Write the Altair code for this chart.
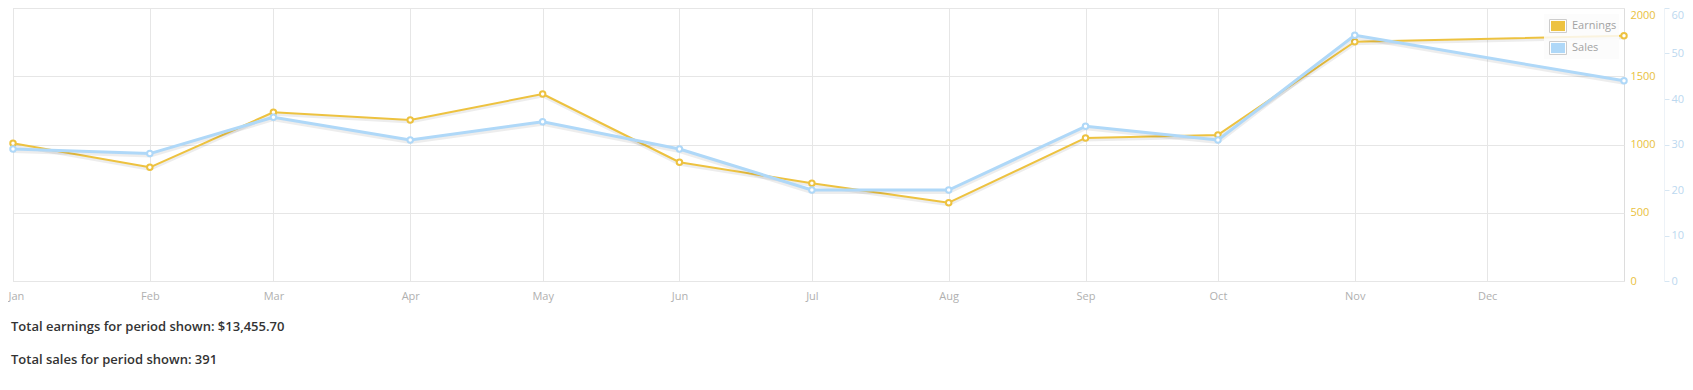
import altair as alt
import pandas as pd

# ---- data ----
dates = ["2013-01-01", "2013-02-01", "2013-03-01", "2013-04-01", "2013-05-01", "2013-06-01",
         "2013-07-01", "2013-08-01", "2013-09-01", "2013-10-01", "2013-11-01", "2014-01-01"]
earnings = [1009, 833, 1236, 1179, 1370, 870, 716, 574, 1048, 1070, 1753, 1797]
sales = [29, 28, 36, 31, 35, 29, 20, 20, 34, 31, 54, 44]

month_ticks = [1, 2, 3, 4, 5, 6, 7, 8, 9, 10, 11, 12]
earn_ticks = [0, 500, 1000, 1500, 2000]
sales_ticks = [0, 10, 20, 30, 40, 50, 60]

series_names = ["Earnings", "Sales"]
series_colors = ["#edc240", "#afd8f8"]

totals = ["Total earnings for period shown: $13,455.70", "Total sales for period shown: 391"]

df = pd.DataFrame({"date": dates, "earnings": earnings, "sales": sales})
leg_df = pd.DataFrame({"name": series_names})

W, H = 1611, 273
FONT = "Open Sans"

x_enc = alt.X(
    "date:T",
    scale=alt.Scale(type="utc", domain=[alt.DateTime(year=2013, month=1, date=1, utc=True),
                                        alt.DateTime(year=2014, month=1, date=1, utc=True)]),
    axis=alt.Axis(values=[alt.DateTime(year=2013, month=m, date=1, utc=True) for m in month_ticks],
                  labelExpr="utcFormat(datum.value, '%b')", title=None, domain=False,
                  ticks=False, tickSize=0, labelPadding=9, grid=True, gridColor="#e6e6e6",
                  labelColor="#b0b0b0", labelFont=FONT, labelFontSize=11,
                  labelFlush=True, labelFlushOffset=5),
)

y_earn = alt.Y(
    "earnings:Q",
    scale=alt.Scale(domain=[0, 2000], nice=False),
    axis=alt.Axis(orient="right", values=earn_ticks, format="d", title=None, domain=False,
                  ticks=False, tickSize=0, labelPadding=6, labelColor="#e9c13d", labelFont=FONT,
                  labelFontSize=11, grid=True, gridColor="#e6e6e6",
                  labelBaseline={"condition": {"test": "datum.value >= 2000", "value": "top"},
                                 "value": "middle"},
                  labelOffset={"condition": {"test": "datum.value >= 2000", "value": 1},
                               "value": 0}),
)

y_sales = alt.Y(
    "sales:Q",
    scale=alt.Scale(domain=[0, 60], nice=False),
    axis=alt.Axis(orient="right", offset=40, values=sales_ticks, format="d", title=None,
                  domain=True, domainColor="#edf2f7", ticks=True, tickSize=5,
                  tickColor="#d6e6f3", labelPadding=2, labelColor="#bcd8ef", labelFont=FONT,
                  labelFontSize=11, grid=False,
                  labelBaseline={"condition": {"test": "datum.value >= 60", "value": "top"},
                                 "value": "middle"},
                  labelOffset={"condition": {"test": "datum.value >= 60", "value": 1},
                               "value": 0}),
)

base = alt.Chart(df)

def series_layer(y_enc, color, width):
    shadow = base.mark_line(color="black", opacity=0.07, strokeWidth=width + 1, yOffset=2,
                            strokeJoin="round").encode(x=x_enc, y=y_enc)
    line = base.mark_line(color=color, strokeWidth=width, strokeJoin="round").encode(x=x_enc, y=y_enc)
    pts = base.mark_point(shape="circle", size=30, filled=False, fill="white", fillOpacity=1,
                          stroke=color, strokeWidth=2, opacity=1).encode(x=x_enc, y=y_enc)
    return alt.layer(shadow, line, pts)

earn_layer = series_layer(y_earn, series_colors[0], 2)
sales_layer = series_layer(y_sales, series_colors[1], 3)

# ---- legend (flot style) ----
y_leg = alt.Y("name:N", scale=alt.Scale(type="point", domain=series_names, range=[18, 40], padding=0),
              axis=None)
leg_bg = alt.Chart(alt.Data(values=[{"a": 1}])).mark_rect(fill="#fbfbfb", opacity=0.85).encode(
    x=alt.value(1531), x2=alt.value(1606), y=alt.value(6), y2=alt.value(51))
outer_path = "M-1,-0.76L1,-0.76L1,0.76L-1,0.76Z"
inner_path = "M-1,-0.72L1,-0.72L1,0.72L-1,0.72Z"
leg_box = alt.Chart(leg_df).mark_point(shape=outer_path, size=289, filled=True, fill="white",
                                       stroke="#cccccc", strokeWidth=1, opacity=1).encode(
    x=alt.value(1545), y=y_leg)
leg_sw = alt.Chart(leg_df).mark_point(shape=inner_path, size=196, filled=True, opacity=1).encode(
    x=alt.value(1545), y=y_leg,
    color=alt.Color("name:N", scale=alt.Scale(domain=series_names, range=series_colors), legend=None))
leg_txt = alt.Chart(leg_df).mark_text(align="left", baseline="middle", font=FONT, fontSize=11,
                                      color="#a3a3a3").encode(
    x=alt.value(1559), y=y_leg, text="name:N")

# ---- totals text below ----
tot1 = alt.Chart(alt.Data(values=[{"t": totals[0]}])).mark_text(
    align="left", baseline="middle", font=FONT, fontSize=13, fontWeight=600, color="#333333").encode(
    x=alt.value(-2), y=alt.value(319), text="t:N")
tot2 = alt.Chart(alt.Data(values=[{"t": totals[1]}])).mark_text(
    align="left", baseline="middle", font=FONT, fontSize=13, fontWeight=600, color="#333333").encode(
    x=alt.value(-2), y=alt.value(352), text="t:N")

chart = alt.layer(
    earn_layer, sales_layer, leg_bg, leg_box, leg_sw, leg_txt, tot1, tot2
).resolve_scale(
    y="independent"
).properties(
    width=W, height=H,
    autosize=alt.AutoSizeParams(type="none"),
    padding={"left": 5, "top": 0, "right": 61, "bottom": 90},
).configure_view(
    fill="#f8f8f8", stroke="#c6c6c6", strokeWidth=2
).configure(background="white")

chart.save("out.html", embed_options={"renderer": "svg", "actions": False})
